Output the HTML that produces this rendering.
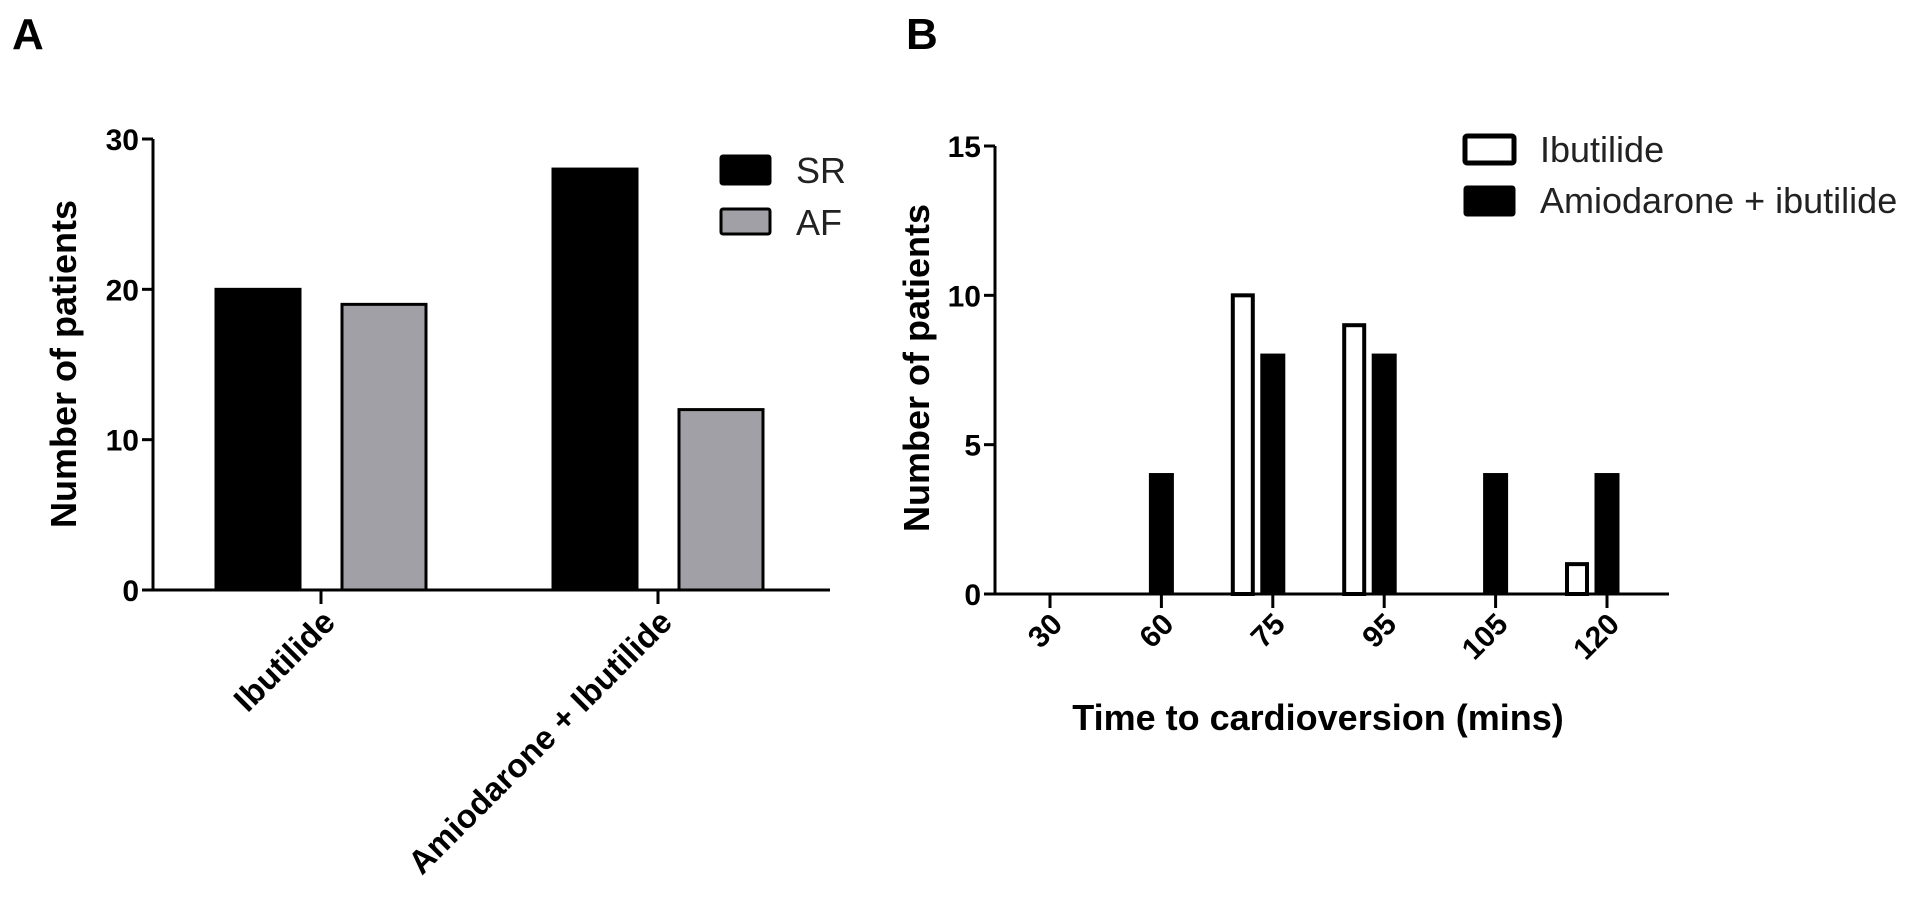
<!DOCTYPE html>
<html><head><meta charset="utf-8"><style>
html,body{margin:0;padding:0;background:#fff;}
svg{display:block;font-family:"Liberation Sans",Arial,sans-serif;}
</style></head><body>
<svg id="fig" width="1913" height="906" viewBox="0 0 1913 906"></svg>
<script>
// Panel A data
const catsA = ["Ibutilide", "Amiodarone + Ibutilide"];
const srA = [20, 28];
const afA = [19, 12];
const ticksA = [0, 10, 20, 30];
// Panel B data
const catsB = ["30", "60", "75", "95", "105", "120"];
const ibuB = [0, 0, 10, 9, 0, 1];
const amiB = [0, 4, 8, 8, 4, 4];
const ticksB = [0, 5, 10, 15];

const NS = "http://www.w3.org/2000/svg";
const svg = document.getElementById("fig");
function mk(tag, attrs, parent, text) {
  const e = document.createElementNS(NS, tag);
  for (const k in attrs) e.setAttribute(k, attrs[k]);
  if (text !== undefined) e.textContent = text;
  (parent || svg).appendChild(e);
  return e;
}

// ---------- Panel A ----------
const gA = mk("g", {});


const axA = {x0: 153, x1: 830, y0: 590, yTop: 139, max: 30};
const yA = v => axA.y0 - v / axA.max * (axA.y0 - axA.yTop);
const catXA = i => 321 + i * 337;
let t = mk("text", {x: 12, y: 49, "font-size": 44, "font-weight": "bold"}, gA, "A");


t = mk("text", {x: 0, y: 0, "font-size": 36, "font-weight": "bold", "text-anchor": "middle", transform: "translate(76,364) rotate(-90)"}, gA, "Number of patients");


srA.forEach((v, i) => {
  const cx = catXA(i) - 63;
  const r = mk("rect", {x: cx - 42, y: yA(v), width: 84, height: axA.y0 - yA(v), fill: "#000", stroke: "#000", "stroke-width": 3}, gA);
  
  
});
afA.forEach((v, i) => {
  const cx = catXA(i) + 63;
  const r = mk("rect", {x: cx - 42, y: yA(v), width: 84, height: axA.y0 - yA(v), fill: "#a0a0a6", stroke: "#000", "stroke-width": 3}, gA);
  
  
});
let ln = mk("path", {d: `M${axA.x0},${axA.yTop} V${axA.y0} H${axA.x1}`, fill: "none", stroke: "#000", "stroke-width": 3}, gA);


ticksA.forEach(v => {
  mk("line", {x1: axA.x0 - 11, x2: axA.x0, y1: yA(v), y2: yA(v), stroke: "#000", "stroke-width": 3}, gA);
  const tl = mk("text", {x: axA.x0 - 14, y: yA(v) + 11, "font-size": 30, "font-weight": "bold", "text-anchor": "end"}, gA, String(v));
  
  
});
catsA.forEach((c, i) => {
  const x = catXA(i);
  mk("line", {x1: x, x2: x, y1: axA.y0, y2: axA.y0 + 14, stroke: "#000", "stroke-width": 3}, gA);
  const tl = mk("text", {x: 0, y: 0, "font-size": 33, "font-weight": "bold", "text-anchor": "end", transform: `translate(${x + 16},${axA.y0 + 34}) rotate(-45)`}, gA, c);
  
  
});
let lg = mk("g", {}, gA);


mk("rect", {x: 721, y: 156, width: 49, height: 28, fill: "#000", stroke: "#000", "stroke-width": 3, rx: 2}, lg);
t = mk("text", {x: 796, y: 183, "font-size": 36, fill: "#222"}, lg, "SR");


mk("rect", {x: 721, y: 209, width: 49, height: 25, fill: "#a0a0a6", stroke: "#000", "stroke-width": 3, rx: 2}, lg);
t = mk("text", {x: 796, y: 235, "font-size": 36, fill: "#222"}, lg, "AF");



// ---------- Panel B ----------
const gB = mk("g", {});


const axB = {x0: 995, x1: 1669, y0: 594, yTop: 146, max: 15};
const yB = v => axB.y0 - v / axB.max * (axB.y0 - axB.yTop);
const catXB = i => 1050 + i * 111.4;
t = mk("text", {x: 906, y: 49, "font-size": 44, "font-weight": "bold"}, gB, "B");


t = mk("text", {x: 0, y: 0, "font-size": 36, "font-weight": "bold", "text-anchor": "middle", transform: "translate(929,368) rotate(-90)"}, gB, "Number of patients");


ibuB.forEach((v, i) => {
  if (v <= 0) return;
  const cx = catXB(i) - 30;
  const r = mk("rect", {x: cx - 10, y: yB(v), width: 20, height: axB.y0 - yB(v), fill: "#fff", stroke: "#000", "stroke-width": 4}, gB);
  
  
});
amiB.forEach((v, i) => {
  if (v <= 0) return;
  const cx = catXB(i);
  const r = mk("rect", {x: cx - 11, y: yB(v), width: 22, height: axB.y0 - yB(v), fill: "#000", stroke: "#000", "stroke-width": 3}, gB);
  
  
});
ln = mk("path", {d: `M${axB.x0},${axB.yTop} V${axB.y0} H${axB.x1}`, fill: "none", stroke: "#000", "stroke-width": 3}, gB);


ticksB.forEach(v => {
  mk("line", {x1: axB.x0 - 11, x2: axB.x0, y1: yB(v), y2: yB(v), stroke: "#000", "stroke-width": 3}, gB);
  const tl = mk("text", {x: axB.x0 - 14, y: yB(v) + 11, "font-size": 30, "font-weight": "bold", "text-anchor": "end"}, gB, String(v));
  
  
});
catsB.forEach((c, i) => {
  const x = catXB(i);
  mk("line", {x1: x, x2: x, y1: axB.y0, y2: axB.y0 + 14, stroke: "#000", "stroke-width": 3}, gB);
  const tl = mk("text", {x: 0, y: 0, "font-size": 30, "font-weight": "bold", "text-anchor": "end", transform: `translate(${x + 14},${axB.y0 + 32}) rotate(-45)`}, gB, c);
  
  
});
t = mk("text", {x: 1318, y: 730, "font-size": 36, "font-weight": "bold", "text-anchor": "middle"}, gB, "Time to cardioversion (mins)");


lg = mk("g", {}, gB);


mk("rect", {x: 1465, y: 136, width: 49, height: 27, fill: "#fff", stroke: "#000", "stroke-width": 5, rx: 2}, lg);
t = mk("text", {x: 1540, y: 162, "font-size": 36, fill: "#222"}, lg, "Ibutilide");


mk("rect", {x: 1465, y: 187, width: 49, height: 28, fill: "#000", stroke: "#000", "stroke-width": 3, rx: 2}, lg);
t = mk("text", {x: 1540, y: 213, "font-size": 36, fill: "#222"}, lg, "Amiodarone + ibutilide");


</script>
</body></html>
